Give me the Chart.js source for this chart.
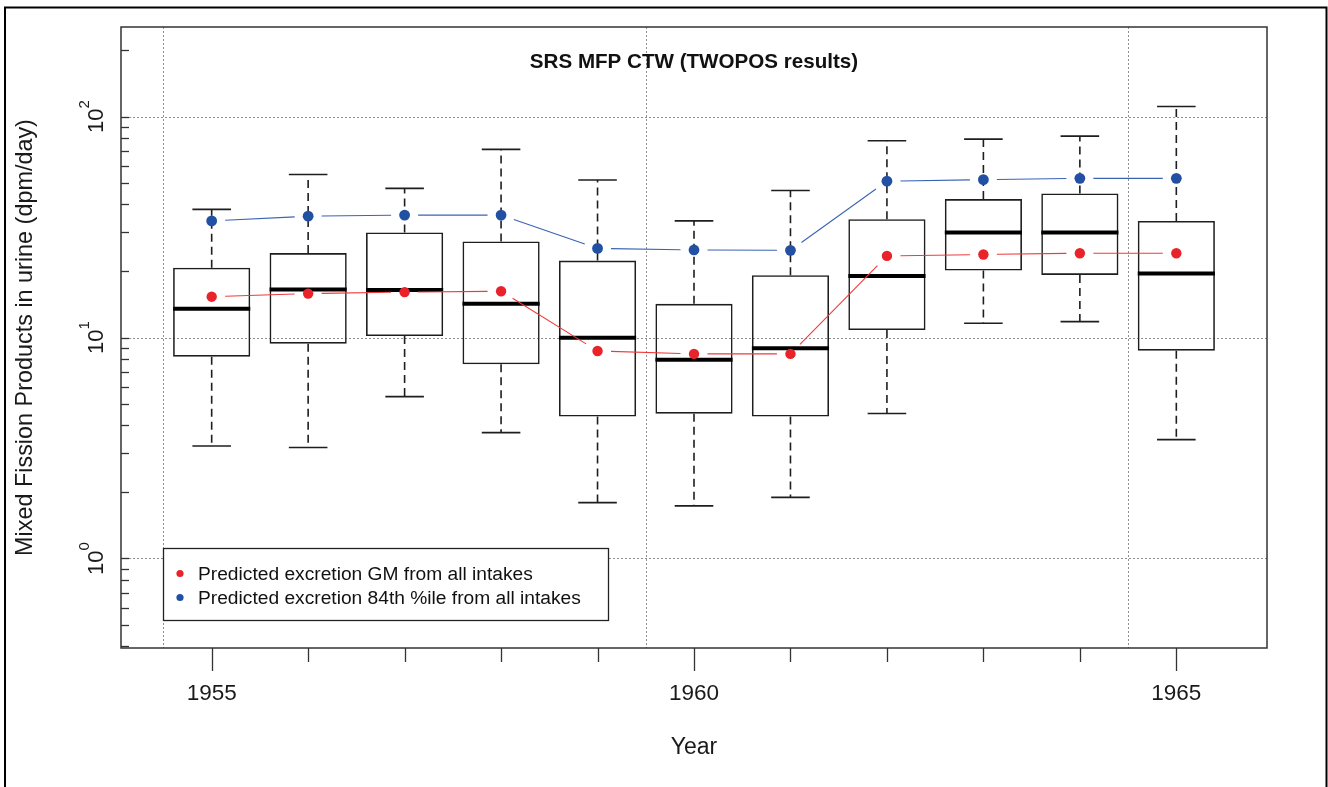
<!DOCTYPE html>
<html>
<head>
<meta charset="utf-8">
<script src="https://cdn.jsdelivr.net/npm/chart.js@4.4.1/dist/chart.umd.min.js"></script>
<style>
  html, body { margin: 0; padding: 0; background: #ffffff; }
  #wrap { width: 1328px; height: 787px; }
</style>
</head>
<body>
<div id="wrap"><canvas id="c" width="1328" height="787"></canvas></div>
<script>
// ---- Data ----
const years       = [1955, 1956, 1957, 1958, 1959, 1960, 1961, 1962, 1963, 1964, 1965];
const whiskerLow  = [3.23, 3.18, 5.40, 3.71, 1.79, 1.73, 1.89, 4.53, 11.6, 11.8, 3.45];
const quart1      = [8.19, 9.38, 10.16, 7.57, 4.39, 4.52, 4.39, 10.8, 20.1, 19.2, 8.72];
const medians     = [13.5, 16.5, 16.4, 14.2, 9.98, 7.94, 8.94, 18.96, 29.85, 29.85, 19.5];
const quart3      = [20.7, 24.1, 29.9, 27.2, 22.3, 14.2, 19.15, 34.3, 42.3, 44.9, 33.7];
const whiskerHigh = [38.0, 54.7, 47.3, 71.0, 51.6, 33.7, 46.3, 77.7, 79.0, 81.5, 111];
const gmPred      = [15.3, 15.8, 16.05, 16.2, 8.69, 8.43, 8.43, 23.4, 23.75, 24.07, 24.07];
const p84Pred     = [33.7, 35.4, 35.8, 35.8, 25.3, 24.9, 24.8, 51.0, 51.8, 52.5, 52.5];

const xLabelYears = [1955, 1960, 1965];
const xGridYears  = [1954.5, 1959.5, 1964.5];
const yDecades    = [1, 10, 100];
const yMinorTicks = [0.4,0.5,0.6,0.7,0.8,0.9,1,2,3,4,5,6,7,8,9,10,20,30,40,50,60,70,80,90,100,200];
const xRange      = [1954.06, 1965.94];
const yRange      = [0.39346, 254.2];

const titleText  = 'SRS MFP CTW (TWOPOS results)';
const xTitleText = 'Year';
const yTitleText = 'Mixed Fission Products in urine (dpm/day)';
const gmLabel    = 'Predicted excretion GM from all intakes';
const p84Label   = 'Predicted excretion 84th %ile from all intakes';

// ---- Styles ----
const FONT = '"Liberation Sans", Arial, sans-serif';
const RED = '#e8232a', BLUE = '#2251a3';
const RED_LINE = '#ee3b3b', BLUE_LINE = '#3a64b4';
const BOXCOL = '#1e1e1e';

function unitPx(chart) {
  const s = chart.scales.x;
  return Math.abs(s.getPixelForValue(years[1]) - s.getPixelForValue(years[0]));
}

const whiskerData = [];
years.forEach((yr, i) => {
  whiskerData.push({x: yr, y: quart3[i]}, {x: yr, y: whiskerHigh[i]}, {x: yr, y: null});
  whiskerData.push({x: yr, y: quart1[i]}, {x: yr, y: whiskerLow[i]}, {x: yr, y: null});
});
const capData = [];
years.forEach((yr, i) => { capData.push({x: yr, y: whiskerHigh[i]}, {x: yr, y: whiskerLow[i]}); });

const decoPlugin = {
  id: 'deco',
  beforeDatasetsDraw(chart) {
    const {ctx, chartArea: a, scales: {x, y}} = chart;
    ctx.save();
    ctx.strokeStyle = '#8f8f8f';
    ctx.lineWidth = 1;
    ctx.setLineDash([2, 2]);
    yDecades.forEach(v => {
      const py = Math.round(y.getPixelForValue(v)) + 0.5;
      ctx.beginPath(); ctx.moveTo(a.left, py); ctx.lineTo(a.right, py); ctx.stroke();
    });
    xGridYears.forEach(v => {
      const px = Math.round(x.getPixelForValue(v)) + 0.5;
      ctx.beginPath(); ctx.moveTo(px, a.top); ctx.lineTo(px, a.bottom); ctx.stroke();
    });
    ctx.restore();
  },
  afterDatasetsDraw(chart) {
    const {ctx, chartArea: a, scales: {x, y}} = chart;
    ctx.save();
    // connectors with gaps around the points (type "b")
    const gap = 13.5;
    [[5, RED_LINE], [6, BLUE_LINE]].forEach(([di, col]) => {
      const pts = chart.getDatasetMeta(di).data;
      ctx.strokeStyle = col; ctx.lineWidth = 1.1; ctx.setLineDash([]);
      for (let i = 0; i < pts.length - 1; i++) {
        const p = pts[i], q = pts[i + 1];
        const dx = q.x - p.x, dy = q.y - p.y, d = Math.hypot(dx, dy);
        if (d <= 2 * gap) continue;
        ctx.beginPath();
        ctx.moveTo(p.x + dx * gap / d, p.y + dy * gap / d);
        ctx.lineTo(q.x - dx * gap / d, q.y - dy * gap / d);
        ctx.stroke();
      }
    });
    // plot frame
    ctx.strokeStyle = '#333'; ctx.lineWidth = 1.5; ctx.setLineDash([]);
    ctx.strokeRect(a.left, a.top, a.right - a.left, a.bottom - a.top);
    // y ticks (inward)
    ctx.lineWidth = 1.3;
    yMinorTicks.forEach(v => {
      const py = Math.round(y.getPixelForValue(v)) + 0.5;
      ctx.beginPath(); ctx.moveTo(a.left, py); ctx.lineTo(a.left + 8, py); ctx.stroke();
    });
    // x ticks (outward)
    years.forEach(v => {
      const px = Math.round(x.getPixelForValue(v)) + 0.5;
      const len = xLabelYears.includes(v) ? 23 : 14;
      ctx.beginPath(); ctx.moveTo(px, a.bottom); ctx.lineTo(px, a.bottom + len); ctx.stroke();
    });
    // x tick labels
    ctx.fillStyle = '#1a1a1a';
    ctx.font = '22.5px ' + FONT;
    ctx.textAlign = 'center'; ctx.textBaseline = 'alphabetic';
    xLabelYears.forEach(v => { ctx.fillText(String(v), x.getPixelForValue(v), a.bottom + 51.5); });
    // y tick labels 10^n rotated
    yDecades.forEach(v => {
      const py = y.getPixelForValue(v);
      const exp = String(Math.round(Math.log10(v)));
      ctx.save();
      ctx.translate(103, py);
      ctx.rotate(-Math.PI / 2);
      ctx.font = '22px ' + FONT;
      const wb = ctx.measureText('10').width;
      ctx.font = '15px ' + FONT;
      const we = ctx.measureText(exp).width;
      const start = -(wb + we) / 2;
      ctx.textAlign = 'left'; ctx.textBaseline = 'alphabetic';
      ctx.font = '22px ' + FONT;
      ctx.fillText('10', start, 0);
      ctx.font = '15px ' + FONT;
      ctx.fillText(exp, start + wb, -14);
      ctx.restore();
    });
    // axis titles
    ctx.font = '23px ' + FONT;
    ctx.textAlign = 'center';
    ctx.fillText(xTitleText, (a.left + a.right) / 2, 754);
    ctx.save();
    ctx.translate(32, (a.top + a.bottom) / 2);
    ctx.rotate(-Math.PI / 2);
    ctx.font = '23.4px ' + FONT;
    ctx.fillText(yTitleText, 0, 0);
    ctx.restore();
    // main title
    ctx.font = 'bold 20.6px ' + FONT;
    ctx.fillStyle = '#111';
    ctx.fillText(titleText, (a.left + a.right) / 2, 68);
    // legend
    const lx = 163.5, ly = 548.5, lw = 445, lh = 72;
    ctx.fillStyle = '#fff';
    ctx.fillRect(lx, ly, lw, lh);
    ctx.strokeStyle = '#222'; ctx.lineWidth = 1.3;
    ctx.strokeRect(lx, ly, lw, lh);
    const items = [[chart.data.datasets[5].label, RED, 573.5], [chart.data.datasets[6].label, BLUE, 597.5]];
    ctx.font = '19.2px ' + FONT;
    ctx.textAlign = 'left'; ctx.textBaseline = 'middle';
    items.forEach(([t, col, yy]) => {
      ctx.fillStyle = col;
      ctx.beginPath(); ctx.arc(180, yy, 3.6, 0, Math.PI * 2); ctx.fill();
      ctx.fillStyle = '#111';
      ctx.fillText(t, 198, yy + 1);
    });
    // outer figure border
    ctx.strokeStyle = '#000'; ctx.lineWidth = 2;
    ctx.strokeRect(5, 7.5, 1321.5, 800);
    ctx.restore();
  }
};

new Chart(document.getElementById('c'), {
  type: 'bar',
  data: {
    datasets: [
      { // 0 boxes (Q1..Q3)
        type: 'bar', label: 'IQR',
        data: years.map((yr, i) => ({x: yr, y: [quart1[i], quart3[i]]})),
        backgroundColor: 'rgba(0,0,0,0)', borderColor: BOXCOL, borderWidth: 1.6,
        borderSkipped: false, barPercentage: 0.8, categoryPercentage: 1.0, order: 5
      },
      { // 1 whiskers
        type: 'line', label: 'whiskers', data: whiskerData,
        borderColor: BOXCOL, borderWidth: 1.6, borderDash: [8, 5], pointRadius: 0,
        spanGaps: false, fill: false, order: 6
      },
      { // 2 whisker caps
        type: 'line', label: 'caps', data: capData, showLine: false,
        pointStyle: 'line', pointBorderColor: BOXCOL, pointBorderWidth: 1.6,
        pointRadius: (c) => unitPx(c.chart) * 0.2, order: 4
      },
      { // 3 medians
        type: 'line', label: 'median',
        data: years.map((yr, i) => ({x: yr, y: medians[i]})), showLine: false,
        pointStyle: 'line', pointBorderColor: '#000', pointBorderWidth: 4,
        pointRadius: (c) => unitPx(c.chart) * 0.4, order: 3
      },
      { // 4 placeholder (unused)
        type: 'line', label: 'none', data: [], order: 7
      },
      { // 5 GM
        type: 'line', label: gmLabel,
        data: years.map((yr, i) => ({x: yr, y: gmPred[i]})), showLine: false,
        pointStyle: 'circle', pointRadius: 5.2, pointBackgroundColor: RED,
        pointBorderColor: RED, pointBorderWidth: 0, order: 1
      },
      { // 6 84th
        type: 'line', label: p84Label,
        data: years.map((yr, i) => ({x: yr, y: p84Pred[i]})), showLine: false,
        pointStyle: 'circle', pointRadius: 5.4, pointBackgroundColor: BLUE,
        pointBorderColor: BLUE, pointBorderWidth: 0, order: 1
      }
    ]
  },
  options: {
    responsive: false, animation: false, devicePixelRatio: 1,
    layout: { padding: { left: 121, top: 27, right: 61, bottom: 139 } },
    scales: {
      x: { type: 'linear', min: xRange[0], max: xRange[1], display: false, offset: false },
      y: { type: 'logarithmic', min: yRange[0], max: yRange[1], display: false }
    },
    plugins: { legend: { display: false }, tooltip: { enabled: false }, title: { display: false } }
  },
  plugins: [decoPlugin]
});
</script>
</body>
</html>
